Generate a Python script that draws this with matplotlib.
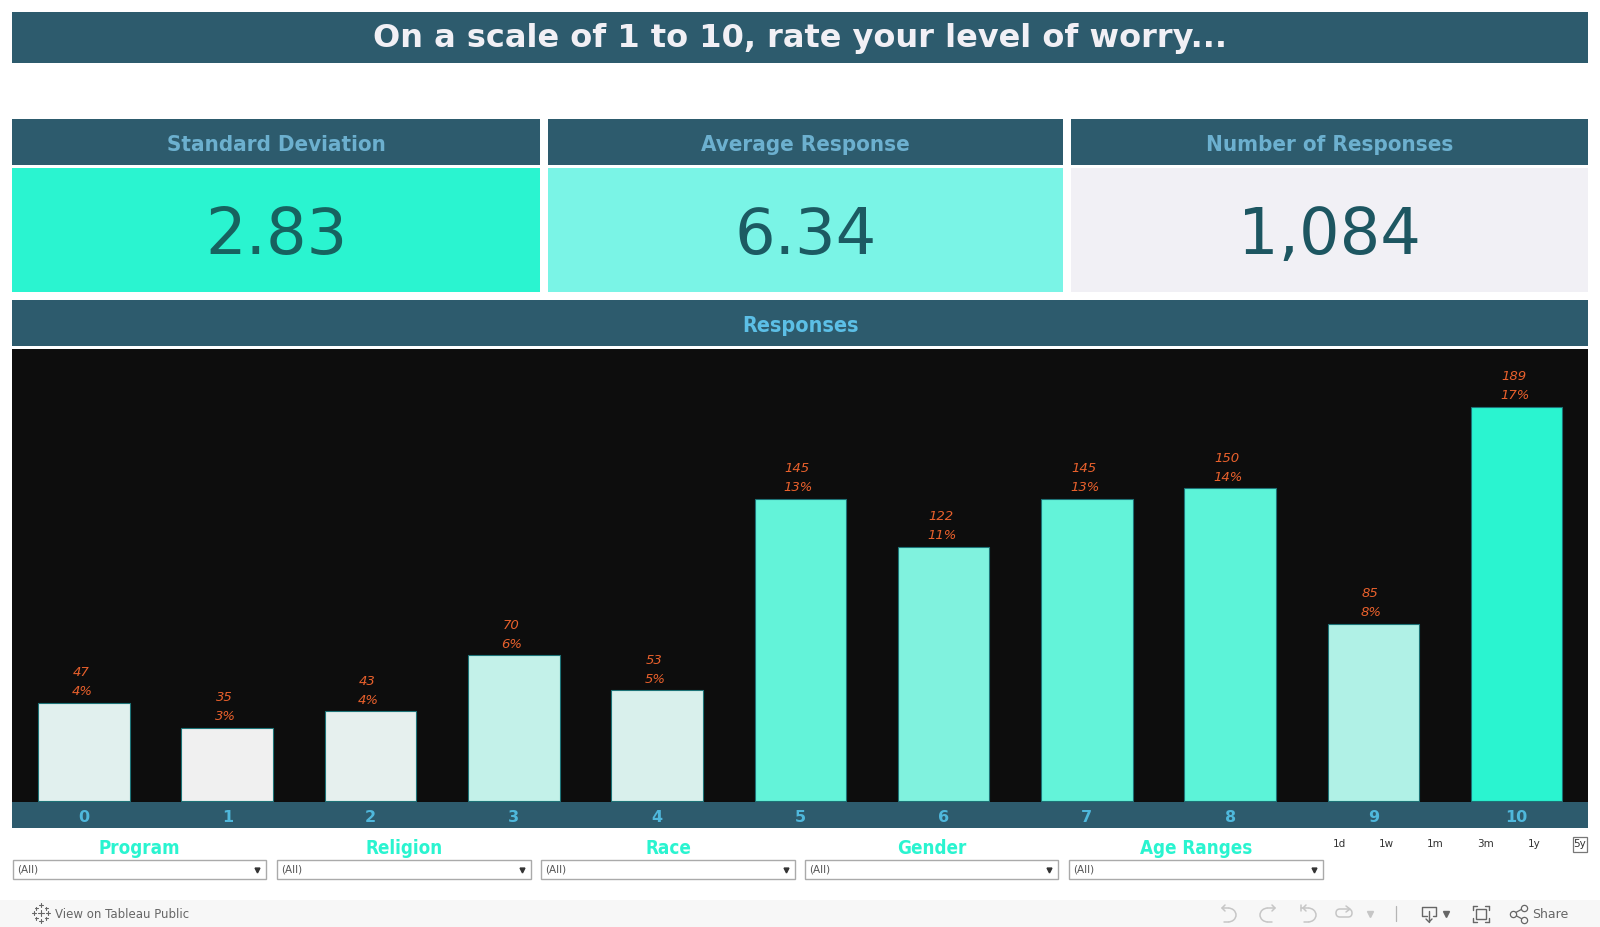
import matplotlib
matplotlib.use('Agg')
import matplotlib.pyplot as plt
from matplotlib.colors import LinearSegmentedColormap, Normalize
from matplotlib.patches import Rectangle, Arc, FancyBboxPatch

W, H = 1600, 927

# data
scores = ['0', '1', '2', '3', '4', '5', '6', '7', '8', '9', '10']
counts = [47, 35, 43, 70, 53, 145, 122, 145, 150, 85, 189]
percents = ['4%', '3%', '4%', '6%', '5%', '13%', '11%', '13%', '14%', '8%', '17%']
kpi_names = ['Standard Deviation', 'Average Response', 'Number of Responses']
kpi_values = ['2.83', '6.34', '1,084']
filter_names = ['Program', 'Religion', 'Race', 'Gender', 'Age Ranges']
range_names = ['1d', '1w', '1m', '3m', '1y', '5y']

HEAD = '#2d5b6d'
MINT = '#2af4d0'
ORANGE = '#e8602c'

fig = plt.figure(figsize=(W / 100, H / 100), dpi=100, facecolor='white')

# background layer in pixel coordinates (y going down)
bg = fig.add_axes([0, 0, 1, 1])
bg.set_xlim(0, W)
bg.set_ylim(H, 0)
bg.axis('off')


def box(x0, y0, x1, y1, color, edge='none', lw=0):
    bg.add_patch(Rectangle((x0, y0), x1 - x0, y1 - y0, facecolor=color, edgecolor=edge, linewidth=lw))


def line(xs, ys, color='#9a9a9a', lw=1.0):
    bg.plot(xs, ys, color=color, lw=lw, solid_capstyle='round')


# title
box(12, 12, 1588, 63, HEAD)
bg.text(800, 38, 'On a scale of 1 to 10, rate your level of worry...', color='#f1f0f5',
        fontsize=23, fontweight='bold', ha='center', va='center')

# kpi cards
kpi_x = [(12, 540), (548, 1063), (1071, 1588)]
kpi_bg = [MINT, '#7af4e6', '#f1f0f5']
kpi_fg = ['#17625f', '#1c5a62', '#1d5661']
for i in range(3):
    x0, x1 = kpi_x[i]
    box(x0, 119, x1, 165, HEAD)
    box(x0, 168, x1, 292, kpi_bg[i])
    bg.text((x0 + x1) / 2, 144.5, kpi_names[i], color='#6cb0cf', fontsize=16,
            fontweight='bold', stretch='condensed', ha='center', va='center')
    bg.text((x0 + x1) / 2, 236, kpi_values[i], color=kpi_fg[i], fontsize=46, ha='center', va='center')

# responses band + tick strip
box(12, 300, 1588, 346, HEAD)
bg.text(800, 325.5, 'Responses', color='#5cbfe6', fontsize=15.5, fontweight='bold', stretch='condensed',
        ha='center', va='center')
box(12, 802, 1588, 828, HEAD)

# bar chart
ax = fig.add_axes([12 / W, 1 - 802 / H, 1576 / W, 453 / H], facecolor='#0d0d0d')
cmap = LinearSegmentedColormap.from_list('worry', ['#f0f0f0', MINT])
norm = Normalize(min(counts), max(counts))
xpos = list(range(len(scores)))
ax.bar(xpos, counts, width=0.64, color=cmap(norm(counts)), edgecolor='#1d7377', linewidth=0.8)
ax.set_xlim(-0.503, 10.498)
ax.set_ylim(-0.5, 216.8)
ax.set_xticks([])
ax.set_yticks([])
for s in ax.spines.values():
    s.set_visible(False)
for i in xpos:
    ax.annotate(percents[i], (i, counts[i]), xytext=(-2, 11), textcoords='offset pixels',
                color=ORANGE, fontsize=9.5, style='italic', ha='center', va='center')
    ax.annotate(str(counts[i]), (i, counts[i]), xytext=(-3, 30), textcoords='offset pixels',
                color=ORANGE, fontsize=9.5, style='italic', ha='center', va='center')
    # tick labels sit on the strip under the chart
    ax.annotate(scores[i], (i, 0), xytext=(0, -17), textcoords='offset pixels', annotation_clip=False,
                color='#4fb8dc', fontsize=11.5, fontweight='bold', ha='center', va='center')

# filters
filter_x = [(13, 266), (277, 531), (541, 795), (805, 1058), (1069, 1323)]
for i in range(5):
    x0, x1 = filter_x[i]
    bg.text((x0 + x1) / 2, 848.5, filter_names[i], color=MINT, fontsize=13.5, fontweight='bold',
            stretch='condensed', ha='center', va='center')
    box(x0, 860, x1, 879, 'white', '#aaaaaa', 1.0)
    bg.text(x0 + 4, 870, '(All)', color='#555555', fontsize=7.5, ha='left', va='center')
    bg.plot([x1 - 9], [870], marker='v', color='#333333', ms=3.5)

# time range buttons
range_x = [1339, 1386, 1435, 1486, 1534, 1580]
for i in range(6):
    bg.text(range_x[i], 844, range_names[i], color='#333333', fontsize=7.5, ha='center', va='center')
box(1573, 837, 1587, 852, 'none', '#777777', 0.9)

# tableau footer
box(0, 900, W, 927, '#f7f7f7')
bg.text(55, 914, 'View on Tableau Public', color='#666666', fontsize=8.5, ha='left', va='center')
for cx, cy, r in [(41, 913, 3), (41, 905, 2), (41, 921, 2), (34, 913, 2), (48, 913, 2),
                  (36, 908, 1.5), (46, 908, 1.5), (36, 918, 1.5), (46, 918, 1.5)]:
    line([cx - r, cx + r], [cy, cy], '#666666', 0.8)
    line([cx, cx], [cy - r, cy + r], '#666666', 0.8)

# undo / redo / reset / refresh icons
grey = '#c6c6c6'
bg.add_patch(Arc((1228, 915), 16, 14, theta1=-90, theta2=90, color=grey, lw=1.1))
line([1222, 1228], [908, 908], grey, 1.1)
line([1225, 1222, 1225], [905, 908, 911], grey, 1.1)
line([1224, 1228], [922, 922], grey, 1.1)
bg.add_patch(Arc((1268, 915), 16, 14, theta1=90, theta2=270, color=grey, lw=1.1))
line([1268, 1275], [908, 908], grey, 1.1)
line([1272, 1275, 1272], [905, 908, 911], grey, 1.1)
line([1268, 1272], [922, 922], grey, 1.1)
bg.add_patch(Arc((1308, 915), 16, 14, theta1=-90, theta2=90, color=grey, lw=1.1))
line([1301, 1308], [908, 908], grey, 1.1)
line([1301, 1301], [905, 911], grey, 1.1)
line([1306, 1303, 1306], [905, 908, 911], grey, 1.1)
line([1304, 1308], [922, 922], grey, 1.1)
bg.add_patch(FancyBboxPatch((1336, 909), 16, 8, boxstyle='round,pad=0,rounding_size=4',
                            facecolor='none', edgecolor=grey, lw=1.1))
line([1346, 1350, 1346], [906, 909, 912], grey, 1.1)
bg.plot([1370], [914], marker='v', color=grey, ms=4.5)
line([1395.5, 1395.5], [906, 921], '#b5b5b5', 0.9)

# download, fullscreen, share
dark = '#666666'
line([1427, 1422, 1422, 1436, 1436, 1433], [916, 916, 907, 907, 916, 916], dark, 1.0)
line([1429, 1429], [911, 922], dark, 1.0)
line([1426, 1429, 1432], [919, 922, 919], dark, 1.0)
bg.plot([1446], [914], marker='v', color=dark, ms=4.5)
for sx, sy in [(1473, 906), (1489, 906), (1473, 922), (1489, 922)]:
    dx = 1 if sx == 1473 else -1
    dy = 1 if sy == 906 else -1
    line([sx, sx + 4 * dx], [sy, sy], dark, 1.0)
    line([sx, sx], [sy, sy + 4 * dy], dark, 1.0)
box(1476, 909, 1486, 919, 'none', dark, 1.0)
line([1513, 1524], [914, 908], dark, 0.9)
line([1513, 1524], [914, 920], dark, 0.9)
for px, py in [(1513, 914), (1524, 908), (1524, 920)]:
    bg.plot([px], [py], marker='o', mfc='#f7f7f7', mec=dark, ms=4.5, mew=0.9)
bg.text(1532, 914, 'Share', color=dark, fontsize=9, ha='left', va='center')

fig.savefig('out.png', dpi=100)
